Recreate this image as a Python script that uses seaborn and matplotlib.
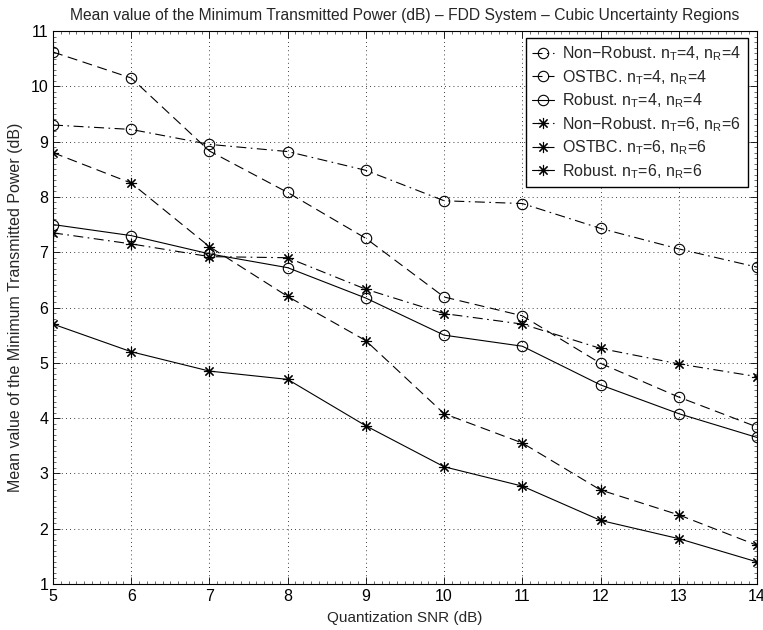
import matplotlib
matplotlib.use("Agg")
import matplotlib.pyplot as plt
import seaborn as sns
import numpy as np
from matplotlib.ticker import MultipleLocator, AutoMinorLocator

snr = [5, 6, 7, 8, 9, 10, 11, 12, 13, 14]
nonrobust_4 = [9.30, 9.22, 8.95, 8.82, 8.48, 7.93, 7.88, 7.43, 7.06, 6.73]
ostbc_4 = [10.62, 10.15, 8.83, 8.08, 7.25, 6.19, 5.85, 4.99, 4.38, 3.84]
robust_4 = [7.50, 7.30, 6.97, 6.72, 6.17, 5.50, 5.30, 4.60, 4.08, 3.65]
nonrobust_6 = [7.35, 7.15, 6.92, 6.90, 6.33, 5.89, 5.70, 5.26, 4.98, 4.75]
ostbc_6 = [8.80, 8.25, 7.10, 6.20, 5.40, 4.08, 3.55, 2.70, 2.25, 1.70]
robust_6 = [5.70, 5.20, 4.85, 4.70, 3.86, 3.12, 2.77, 2.15, 1.82, 1.40]

labels = [
    "Non\u2212Robust. n$_{T}$=4, n$_{R}$=4",
    "OSTBC. n$_{T}$=4, n$_{R}$=4",
    "Robust. n$_{T}$=4, n$_{R}$=4",
    "Non\u2212Robust. n$_{T}$=6, n$_{R}$=6",
    "OSTBC. n$_{T}$=6, n$_{R}$=6",
    "Robust. n$_{T}$=6, n$_{R}$=6",
]
series = [nonrobust_4, ostbc_4, robust_4, nonrobust_6, ostbc_6, robust_6]

sns.set_style("ticks")
plt.rcParams['font.family'] = ['Liberation Sans', 'DejaVu Sans']
plt.rcParams['mathtext.default'] = 'regular'

W, H = 763, 630
fig = plt.figure(figsize=(W / 100, H / 100), dpi=100)
ax = fig.add_axes([53 / W, 1 - 584 / H, (757 - 53) / W, (584 - 31) / H])

dashdot = (0, (9, 4, 1.5, 4))
dashed = (0, (9, 5))
styles = [dashdot, dashed, '-', dashdot, dashed, '-']
ast = (8, 2, 0)
markers = ['o', 'o', 'o', ast, ast, ast]

for vals, ls, mk in zip(series, styles, markers):
    sns.lineplot(x=snr, y=vals, ax=ax, color='k', linewidth=0.8,
                 linestyle=ls, marker=mk, markersize=7.5 if mk == 'o' else 8,
                 markerfacecolor='none', markeredgecolor='k',
                 markeredgewidth=0.8, legend=False)

ax.set_xlim(5, 14)
ax.set_ylim(1, 11)
ax.xaxis.set_major_locator(MultipleLocator(1))
ax.yaxis.set_major_locator(MultipleLocator(1))
ax.xaxis.set_minor_locator(AutoMinorLocator(10))
ax.yaxis.set_minor_locator(AutoMinorLocator(10))
ax.tick_params(which='both', direction='in', top=True, right=True, colors='k',
               labelsize=11.5)
ax.tick_params(which='major', length=5, width=0.6)
ax.tick_params(which='minor', length=2, width=0.4)
for s in ax.spines.values():
    s.set_visible(True)
    s.set_color('k')
    s.set_linewidth(0.8)
ax.grid(True, which='major', linestyle=(0, (1, 4)), color='k', linewidth=0.6)

ax.set_title("Mean value of the Minimum Transmitted Power (dB) \u2013 FDD System \u2013 Cubic Uncertainty Regions",
             fontsize=11.25, pad=8)
ax.set_xlabel("Quantization SNR (dB)", fontsize=11, labelpad=5)
ax.set_ylabel("Mean value of the Minimum Transmitted Power (dB)", fontsize=11.5, labelpad=5)

handles = list(ax.lines)[:len(labels)]
leg = ax.legend(handles, labels, loc='upper right',
                bbox_to_anchor=(748 / W, 1 - 38 / H),
                bbox_transform=fig.transFigure, borderaxespad=0,
                fontsize=11.5, frameon=True, fancybox=False,
                edgecolor='k', framealpha=1, handlelength=1.4,
                labelspacing=0.3, handletextpad=0.5, borderpad=0.4)
leg.get_frame().set_linewidth(1.0)

fig.savefig("out.png", dpi=100)
